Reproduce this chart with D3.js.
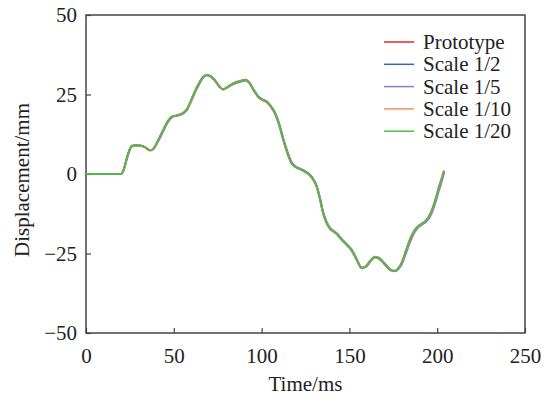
<!DOCTYPE html>
<html>
<head>
<meta charset="utf-8">
<script src="https://cdn.jsdelivr.net/npm/d3@7"></script>
<style>
  body { margin: 0; background: #fff; }
  svg text { font-family: "Liberation Serif", "DejaVu Serif", serif; fill: #222; }
</style>
</head>
<body>
<div id="chart"></div>
<script>
// time axis shared by all series (ms)
const time = [0, 20, 21.5, 23.5, 26, 28, 31, 33.5, 36.5, 38.5,
  41, 44, 46.5, 49, 52, 54.5, 57.3, 60, 62, 64.5,
  66.5, 68.7, 71, 73.5, 76, 78.2, 81, 84.9, 88, 91,
  93, 95.5, 98, 100.5, 103, 105.5, 107.6, 110, 112.4, 114.8,
  117.1, 119.5, 121.9, 124.5, 127.6, 129.5, 131.4, 133.3, 135.1, 137,
  138.9, 140.8, 142.8, 145.5, 148.5, 151.3, 154, 157, 159.5, 162,
  164.6, 166.5, 168.4, 171, 173.5, 176, 178, 179.8, 182, 184.5,
  187, 189.3, 191.5, 194, 196, 197.8, 199.5, 200.6, 202.2, 203.9];

const prototype = [0, 0, 1.5, 5.5, 8.8, 9.0, 8.9, 8.4, 7.4, 8.0,
  10.5, 13.8, 16.5, 18.0, 18.4, 18.9, 20.2, 23.3, 25.9, 28.6,
  30.4, 31.1, 30.7, 29.3, 27.4, 26.6, 27.5, 28.7, 29.2, 29.6,
  28.6, 26.3, 24.3, 23.3, 22.6, 21.0, 19.1, 15.5, 10.7, 6.5,
  3.4, 2.2, 1.6, 0.8, -0.4, -1.8, -4.0, -8.0, -12.4, -15.3,
  -17.1, -18.0, -18.8, -20.6, -22.3, -24.0, -26.8, -29.6, -29.0, -27.3,
  -26.2, -26.5, -27.3, -28.9, -30.2, -30.5, -29.6, -28.0, -24.6, -20.8,
  -17.9, -16.4, -15.6, -14.5, -12.8, -10.3, -7.3, -5.0, -2.2, 0.8];

const scale2 = [0, 0, 1.4, 5.4, 8.7, 9.0, 8.9, 8.4, 7.4, 8.0,
  10.4, 13.7, 16.4, 18.0, 18.4, 18.8, 20.1, 23.2, 25.8, 28.5,
  30.3, 31.1, 30.7, 29.4, 27.5, 26.6, 27.4, 28.6, 29.1, 29.5,
  28.7, 26.4, 24.4, 23.4, 22.7, 21.1, 19.2, 15.7, 10.9, 6.7,
  3.5, 2.3, 1.6, 0.9, -0.3, -1.7, -3.9, -7.8, -12.2, -15.2,
  -17.0, -17.9, -18.7, -20.5, -22.2, -23.9, -26.7, -29.5, -29.1, -27.4,
  -26.1, -26.4, -27.2, -28.8, -30.1, -30.5, -29.7, -28.2, -24.9, -21.1,
  -18.1, -16.5, -15.7, -14.6, -13.0, -10.5, -7.5, -5.3, -2.5, 0.6];

const scale5 = [0, 0, 1.2, 5.0, 8.5, 8.9, 8.9, 8.5, 7.5, 7.9,
  10.1, 13.4, 16.1, 17.8, 18.3, 18.7, 19.9, 22.9, 25.5, 28.2,
  30.1, 31.0, 30.8, 29.5, 27.6, 26.6, 27.3, 28.5, 29.0, 29.4,
  28.8, 26.6, 24.6, 23.5, 22.8, 21.3, 19.5, 16.0, 11.2, 7.0,
  3.8, 2.4, 1.7, 1.0, -0.2, -1.5, -3.6, -7.5, -11.9, -14.9,
  -16.8, -17.8, -18.6, -20.3, -22.0, -23.7, -26.4, -29.4, -29.2, -27.6,
  -26.0, -26.2, -27.0, -28.6, -30.0, -30.6, -29.9, -28.5, -25.3, -21.6,
  -18.5, -16.8, -15.9, -14.9, -13.4, -11.1, -8.2, -6.0, -3.2, 0.2];

const scale10 = [0, 0, 1.5, 5.6, 8.8, 9.0, 8.9, 8.4, 7.4, 8.0,
  10.6, 13.9, 16.6, 18.1, 18.4, 18.9, 20.3, 23.4, 26.0, 28.7,
  30.5, 31.2, 30.7, 29.2, 27.3, 26.5, 27.5, 28.8, 29.3, 29.7,
  28.5, 26.2, 24.2, 23.2, 22.5, 20.9, 19.0, 15.3, 10.5, 6.3,
  3.3, 2.1, 1.5, 0.7, -0.5, -1.9, -4.1, -8.2, -12.6, -15.4,
  -17.2, -18.1, -18.9, -20.7, -22.4, -24.1, -26.9, -29.7, -28.9, -27.2,
  -26.2, -26.6, -27.4, -29.0, -30.3, -30.4, -29.5, -27.8, -24.4, -20.6,
  -17.8, -16.3, -15.5, -14.4, -12.6, -10.1, -7.1, -4.8, -2.0, 1.0];

const scale20 = [0, 0, 1.6, 5.6, 8.9, 9.1, 9.0, 8.5, 7.5, 8.1,
  10.6, 13.9, 16.6, 18.1, 18.5, 19.0, 20.3, 23.4, 26.0, 28.7,
  30.5, 31.2, 30.8, 29.4, 27.4, 26.7, 27.6, 28.8, 29.3, 29.7,
  28.7, 26.3, 24.3, 23.3, 22.6, 21.0, 19.0, 15.3, 10.5, 6.3,
  3.3, 2.1, 1.5, 0.7, -0.5, -1.9, -4.1, -8.2, -12.6, -15.5,
  -17.2, -18.1, -18.9, -20.7, -22.4, -24.1, -26.9, -29.7, -28.9, -27.1,
  -26.1, -26.5, -27.4, -29.0, -30.3, -30.5, -29.5, -27.8, -24.3, -20.5,
  -17.7, -16.3, -15.5, -14.3, -12.5, -10.0, -7.0, -4.7, -1.9, 1.1];

const seriesNames = ["Prototype", "Scale 1/2", "Scale 1/5", "Scale 1/10", "Scale 1/20"];
const seriesValues = [prototype, scale2, scale5, scale10, scale20];
const seriesColors = ["#e8272b", "#3b63b0", "#8f7cc5", "#f0915a", "#53b848"];

const xTicks = [0, 50, 100, 150, 200, 250];
const yTicks = [-50, -25, 0, 25, 50];

const width = 550, height = 399;
const margin = { top: 15, right: 25, bottom: 66, left: 86 };
const innerW = width - margin.left - margin.right;
const innerH = height - margin.top - margin.bottom;

const svg = d3.select("#chart")
  .append("svg")
  .attr("width", width)
  .attr("height", height);

const g = svg.append("g")
  .attr("transform", "translate(" + margin.left + "," + margin.top + ")");

const x = d3.scaleLinear().domain([0, 250]).range([0, innerW]);
const y = d3.scaleLinear().domain([-50, 50]).range([innerH, 0]);

// axes with inward ticks
const xAxis = g.append("g")
  .attr("transform", "translate(0," + innerH + ")")
  .call(d3.axisBottom(x).tickValues(xTicks).tickSizeInner(-5).tickSizeOuter(0).tickPadding(10));
const yAxis = g.append("g")
  .call(d3.axisLeft(y).tickValues(yTicks).tickSizeInner(-5).tickSizeOuter(0).tickPadding(9)
    .tickFormat(d => d < 0 ? "\u2212" + Math.abs(d) : d));

[xAxis, yAxis].forEach(a => {
  a.select(".domain").remove();
  a.selectAll(".tick line").attr("stroke", "#444").attr("stroke-width", 1.2);
  a.selectAll("text").style("font-size", "21px").attr("fill", "#222");
});
xAxis.selectAll("text").attr("dy", "0.95em");

// frame
g.append("rect")
  .attr("width", innerW)
  .attr("height", innerH)
  .attr("fill", "none")
  .attr("stroke", "#444")
  .attr("stroke-width", 1.5);

const line = d3.line()
  .x((d, i) => x(time[i]))
  .y(d => y(d))
  .curve(d3.curveMonotoneX);

g.selectAll(".series")
  .data(seriesValues)
  .enter()
  .append("path")
  .attr("class", "series")
  .attr("d", d => line(d))
  .attr("fill", "none")
  .attr("stroke", (d, i) => seriesColors[i])
  .attr("stroke-width", 1.8);

// legend
const legend = g.append("g")
  .attr("transform", "translate(298,27)");

seriesNames.forEach((name, i) => {
  const row = legend.append("g").attr("transform", "translate(0," + (i * 22.3) + ")");
  row.append("line")
    .attr("x1", 0).attr("x2", 30)
    .attr("stroke", seriesColors[i])
    .attr("stroke-width", 1.5);
  row.append("text")
    .attr("x", 39)
    .attr("dy", "0.33em")
    .style("font-size", "21px")
    .text(name);
});

// axis titles
svg.append("text")
  .attr("x", margin.left + innerW / 2)
  .attr("y", 391)
  .attr("text-anchor", "middle")
  .style("font-size", "21px")
  .text("Time/ms");

svg.append("text")
  .attr("transform", "translate(29," + 180 + ") rotate(-90)")
  .attr("text-anchor", "middle")
  .style("font-size", "21px")
  .text("Displacement/mm");
</script>
</body>
</html>
